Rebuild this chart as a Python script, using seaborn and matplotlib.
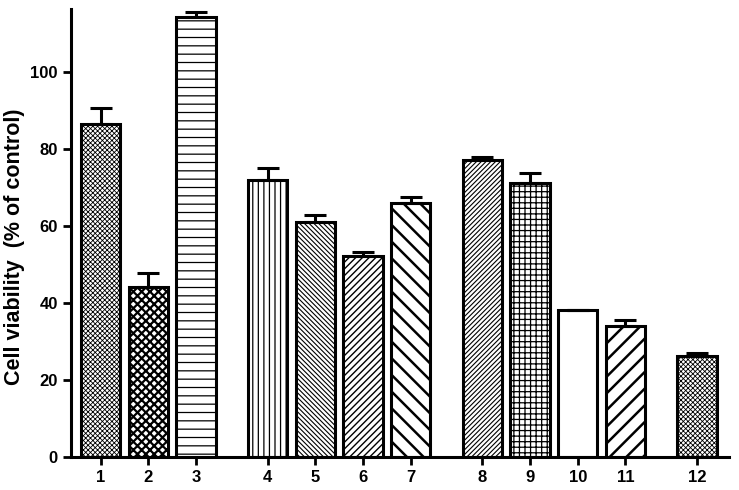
import matplotlib
matplotlib.use("Agg")
import matplotlib.pyplot as plt
import seaborn as sns
import pandas as pd
import numpy as np

# bar groups: 1-3, 4-7, 8-11, 12 (gaps between groups)
labels = ['1', '2', '3', '4', '5', '6', '7', '8', '9', '10', '11', '12']
positions = [0, 1, 2, 3.5, 4.5, 5.5, 6.5, 8, 9, 10, 11, 12.5]
viability = [86.5, 44.2, 114.2, 71.9, 61.0, 52.2, 65.9, 77.1, 71.3, 38.1, 34.1, 26.3]
sem = [4.3, 3.6, 1.3, 3.1, 1.9, 1.0, 1.7, 0.9, 2.6, 0.2, 1.5, 0.6]
hatches = ['xxxxxxx', 'xxxx', '--', '|||', '\\\\\\\\\\\\\\', '/////', '\\\\',
           '///////', '+++', '', '//', 'xxxxxxx']
hatch_lw = [0.6, 1.6, 0.9, 0.9, 0.8, 1.0, 1.8, 0.8, 0.9, 0.9, 1.8, 0.6]

df = pd.DataFrame({'pos': positions, 'viability': viability, 'sem': sem})

sns.set_style("ticks", {'text.color': 'black', 'axes.labelcolor': 'black',
                        'xtick.color': 'black', 'ytick.color': 'black',
                        'axes.edgecolor': 'black'})
plt.rcParams['font.family'] = ['Liberation Sans', 'DejaVu Sans']
plt.rcParams['hatch.linewidth'] = 0.9

fig = plt.figure(figsize=(7.39, 4.90), dpi=100)
ax = fig.add_axes([0.096, 0.0673, 0.8905, 0.9143])

sns.barplot(data=df, x='pos', y='viability', native_scale=True, width=0.82,
            color='white', edgecolor='black', linewidth=2.2, errorbar=None, ax=ax)

for bar, h, lw in zip(ax.patches, hatches, hatch_lw):
    bar.set_hatch(h)
    bar.set_facecolor('white')
    if hasattr(bar, 'set_hatch_linewidth'):
        bar.set_hatch_linewidth(lw)

ax.errorbar(positions, viability, yerr=[np.zeros(len(sem)), sem], fmt='none',
            ecolor='black', elinewidth=2.2, capsize=8, capthick=2.2, zorder=1)

ax.set_xlim(-0.62, 13.17)
ax.set_ylim(0, 116.4)
ax.set_yticks([0, 20, 40, 60, 80, 100])
ax.set_xticks(positions)
ax.set_xticklabels(labels)
ax.set_xlabel('')
ax.set_ylabel('Cell viability  (% of control)', fontsize=15.5, fontweight='bold',
              color='black')
ax.yaxis.set_label_coords(-0.07, 0.47)
ax.tick_params(axis='both', width=2, length=6, labelsize=12, colors='black')
for lab in ax.get_xticklabels() + ax.get_yticklabels():
    lab.set_fontweight('bold')
for s in ['left', 'bottom']:
    ax.spines[s].set_linewidth(2.2)
    ax.spines[s].set_color('black')
sns.despine(ax=ax)

fig.savefig('out.png', dpi=100)
